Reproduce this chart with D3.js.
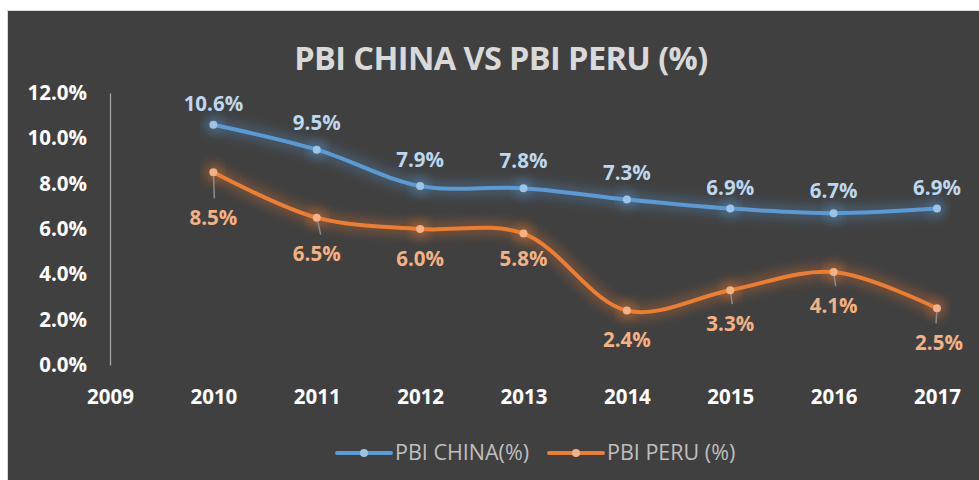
<!DOCTYPE html>
<html><head><meta charset="utf-8">
<script src="https://cdn.jsdelivr.net/npm/d3@7"></script>
<style>
html,body{margin:0;padding:0;background:#fff;}
svg{display:block;}
</style></head>
<body>
<script>
const years = ["2009","2010","2011","2012","2013","2014","2015","2016","2017"];
const chinaYears = ["2010","2011","2012","2013","2014","2015","2016","2017"];
const chinaValues = [10.6, 9.5, 7.9, 7.8, 7.3, 6.9, 6.7, 6.9];
const peruValues = [8.5, 6.5, 6.0, 5.8, 2.4, 3.3, 4.1, 2.5];
const yTicks = [0, 2, 4, 6, 8, 10, 12];
const seriesNames = ["PBI CHINA(%)", "PBI PERU (%)"];

// label placement (style/layout only)
const peruLabelDy = [45, 36, 29, 25, 29, 33, 33, 34];
const peruLabelDx = [0, 0, 0, 0, 0, 0, 0, 2];
const chinaLabelDy = [-21, -27, -26, -28, -27, -21, -23, -21];

const W = 979, H = 480;
const FONT = "'Open Sans', 'Noto Sans', sans-serif";
const svg = d3.select("body").append("svg").attr("width", W).attr("height", H);

svg.append("rect").attr("x", 7).attr("y", 10).attr("width", W - 7).attr("height", H - 10).attr("fill", "#d9d9d9");
svg.append("rect").attr("x", 8).attr("y", 11).attr("width", W - 8).attr("height", H - 11).attr("fill", "#404040");

const defs = svg.append("defs");
const glow = defs.append("filter").attr("id", "glow").attr("x", "-20%").attr("y", "-50%").attr("width", "140%").attr("height", "200%");
glow.append("feGaussianBlur").attr("in", "SourceGraphic").attr("stdDeviation", 6).attr("result", "b");
glow.append("feComponentTransfer").attr("in", "b").append("feFuncA").attr("type", "linear").attr("slope", 0.5);

const x = d3.scalePoint().domain(years).range([110, 937]);
const y = d3.scaleLinear().domain([0, 12]).range([365, 93]);

// title
svg.append("text").attr("x", 501).attr("y", 70).attr("text-anchor", "middle")
  .attr("font-family", FONT).attr("font-weight", 700).attr("font-size", 32.5)
  .attr("fill", "#d9d9d9").attr("letter-spacing", -0.6).text("PBI CHINA VS PBI PERU (%)");

// y axis
const yAxis = d3.axisLeft(y).tickValues(yTicks).tickSize(0).tickPadding(23)
  .tickFormat(d => d3.format(".1f")(d) + "%");
const gy = svg.append("g").attr("transform", "translate(110,0)").call(yAxis);
gy.select(".domain").attr("stroke", "#a6a6a6").attr("stroke-width", 1.3);
gy.selectAll("text").attr("font-family", FONT).attr("font-weight", 700).attr("font-size", 20.5)
  .attr("fill", "#ffffff");

// x axis
const xAxis = d3.axisBottom(x).tickSize(0).tickPadding(0);
const gx = svg.append("g").attr("transform", "translate(0,365)").call(xAxis);
gx.select(".domain").remove();
gx.selectAll("text").attr("font-family", FONT).attr("font-weight", 700).attr("font-size", 20.5)
  .attr("fill", "#ffffff").attr("dy", 0).attr("y", 39);

const line = d3.line().x((d, i) => x(chinaYears[i])).y(d => y(d)).curve(d3.curveCatmullRom.alpha(0.5));

const series = [
  {vals: chinaValues, color: "#5b9bd5", dot: "#9dc3e6", label: "#bdd7ee"},
  {vals: peruValues, color: "#ed7d31", dot: "#f4b183", label: "#f4b183"}
];

series.forEach(s => {
  svg.append("path").attr("d", line(s.vals)).attr("fill", "none").attr("stroke", s.color)
    .attr("stroke-width", 14).attr("filter", "url(#glow)").attr("opacity", 0.6);
  svg.selectAll(null).data(s.vals).enter().append("circle")
    .attr("cx", (d, i) => x(chinaYears[i])).attr("cy", d => y(d)).attr("r", 9)
    .attr("fill", s.color).attr("filter", "url(#glow)").attr("opacity", 0.8);
});
series.forEach(s => {
  svg.append("path").attr("d", line(s.vals)).attr("fill", "none").attr("stroke", s.color)
    .attr("stroke-width", 4).attr("stroke-linecap", "round");
});

// leader lines for Peru
peruValues.forEach((v, i) => {
  const dy = peruLabelDy[i];
  if (dy >= 33) {
    const px = x(chinaYears[i]), py = y(v);
    const lx = px + (i === 1 ? 4 : (i === 7 ? -1 : (i === 6 || i === 5 ? 2 : 1)));
    svg.append("line").attr("x1", px).attr("y1", py).attr("x2", lx).attr("y2", py + dy - 19)
      .attr("stroke", "#8c8c8c").attr("stroke-width", 1.5);
  }
});

series.forEach(s => {
  svg.selectAll(null).data(s.vals).enter().append("circle")
    .attr("cx", (d, i) => x(chinaYears[i])).attr("cy", d => y(d)).attr("r", 4)
    .attr("fill", s.dot);
});

// labels
svg.selectAll(null).data(chinaValues).enter().append("text")
  .attr("x", (d, i) => x(chinaYears[i])).attr("y", (d, i) => y(d) + chinaLabelDy[i] + 7.5)
  .attr("text-anchor", "middle").attr("font-family", FONT).attr("font-weight", 700).attr("font-size", 20.5)
  .attr("fill", "#bdd7ee").text(d => d3.format(".1f")(d) + "%");
svg.selectAll(null).data(peruValues).enter().append("text")
  .attr("x", (d, i) => x(chinaYears[i]) + peruLabelDx[i]).attr("y", (d, i) => y(d) + peruLabelDy[i] + 7.5)
  .attr("text-anchor", "middle").attr("font-family", FONT).attr("font-weight", 700).attr("font-size", 20.5)
  .attr("fill", "#f4b183").text(d => d3.format(".1f")(d) + "%");

// legend
const legend = [
  {name: seriesNames[0], x0: 337, color: "#5b9bd5", dot: "#9dc3e6"},
  {name: seriesNames[1], x0: 549, color: "#ed7d31", dot: "#f4b183"}
];
legend.forEach(l => {
  svg.append("line").attr("x1", l.x0).attr("x2", l.x0 + 54).attr("y1", 453).attr("y2", 453)
    .attr("stroke", l.color).attr("stroke-width", 4).attr("stroke-linecap", "round");
  svg.append("circle").attr("cx", l.x0 + 27).attr("cy", 453).attr("r", 4).attr("fill", l.dot);
  svg.append("text").attr("x", l.x0 + 58).attr("y", 460).attr("font-family", FONT)
    .attr("font-size", 21.5).attr("fill", "#bfbfbf").text(l.name);
});
</script>
</body></html>
